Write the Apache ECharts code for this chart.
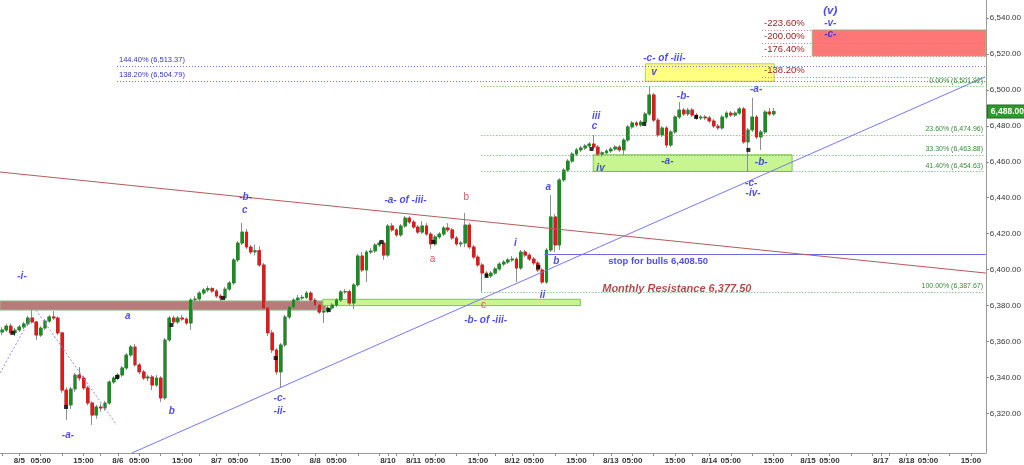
<!DOCTYPE html>
<html><head><meta charset="utf-8">
<script src="https://cdn.jsdelivr.net/npm/echarts@6/dist/echarts.min.js"></script>
<style>html,body{margin:0;padding:0;background:#fff}#c{width:1024px;height:465px}</style>
</head><body><div id="c"></div>
<script>
// ---- time axis structure: [date, first hour, last hour] of hourly slots ----
const sessions = [['8/4',20,23],['8/5',0,16],['8/5',18,23],['8/6',0,16],['8/6',18,23],['8/7',0,16],['8/7',18,23],['8/8',0,16],
  ['8/10',18,23],['8/11',0,16],['8/11',18,23],['8/12',0,16],['8/12',18,23],['8/13',0,16],['8/13',18,23],['8/14',0,16],['8/14',18,23],['8/15',0,16],
  ['8/17',18,23],['8/18',0,16],['8/18',18,19]];
const sundayOpens = ['8/10','8/17'];
const timeLabelHours = [5,15];

// ---- hourly OHLC ----
const opens = [6365.3,6366.4,6368.6,6364.8,6366.4,6368.1,6369.8,6373.1,6370.9,6363.6,6367.5,6371.4,6373.7,6373.1,6364.8,6333.0,6324.7,6333.6,6341.4,6339.7,
6334.2,6325.8,6319.1,6323.6,6323.0,6325.8,6337.5,6339.7,6341.4,6345.3,6352.5,6357.0,6347.0,6343.1,6339.7,6340.3,6335.8,6339.7,6328.6,6360.9,
6373.1,6370.9,6373.1,6372.5,6370.3,6383.1,6383.7,6387.0,6388.7,6389.5,6388.1,6385.3,6384.2,6389.2,6392.6,6405.4,6414.8,6420.9,6412.6,6409.8,
6410.6,6402.6,6378.7,6364.8,6355.3,6343.1,6358.1,6373.7,6379.2,6383.1,6384.2,6384.6,6387.0,6383.1,6380.3,6376.4,6377.0,6378.7,6380.3,6383.1,
6387.6,6387.8,6381.4,6391.5,6407.6,6399.8,6409.8,6410.4,6413.7,6414.8,6408.1,6424.3,6422.1,6419.3,6424.3,6428.7,6426.5,6423.7,6420.9,6424.3,
6419.8,6414.3,6418.2,6419.8,6423.2,6422.1,6417.6,6414.3,6414.8,6424.8,6412.6,6407.0,6402.6,6398.1,6396.5,6398.1,6400.4,6403.1,6404.2,6405.4,
6405.9,6400.9,6409.8,6408.1,6405.9,6403.7,6399.8,6393.1,6410.9,6429.3,6413.7,6449.9,6455.4,6460.4,6464.3,6466.6,6467.7,6468.8,6469.9,6468.2,
6464.3,6465.0,6466.0,6467.1,6468.2,6466.6,6472.1,6479.4,6481.6,6480.5,6482.1,6486.6,6497.2,6483.2,6474.9,6478.8,6469.3,6476.6,6484.9,6488.8,
6486.6,6488.8,6486.0,6484.4,6484.9,6484.4,6482.7,6479.9,6478.8,6484.9,6487.1,6486.0,6487.1,6489.4,6471.0,6477.7,6484.9,6473.8,6476.6,6487.7,
6486.6];
const closes = [6366.4,6368.6,6364.8,6366.4,6368.1,6369.8,6373.1,6370.9,6363.6,6367.5,6371.4,6373.7,6373.1,6364.8,6333.0,6324.7,6333.6,6341.4,6339.7,6334.2,
6325.8,6319.1,6323.6,6323.0,6325.8,6337.5,6339.7,6341.4,6345.3,6352.5,6357.0,6347.0,6343.1,6339.7,6340.3,6335.8,6339.7,6328.6,6360.9,6373.1,
6370.9,6373.1,6372.5,6370.3,6383.1,6383.7,6387.0,6388.7,6389.5,6388.1,6385.3,6384.2,6389.2,6392.6,6405.4,6414.8,6420.9,6412.6,6409.8,6410.6,
6402.6,6378.7,6364.8,6355.3,6343.1,6358.1,6373.7,6379.2,6383.1,6384.2,6384.6,6387.0,6383.1,6380.3,6376.4,6377.0,6378.7,6380.3,6383.1,6387.6,
6387.8,6381.4,6391.5,6407.6,6399.8,6409.8,6410.4,6413.7,6414.8,6408.1,6424.3,6422.1,6419.3,6424.3,6428.7,6426.5,6423.7,6420.9,6424.3,6419.8,
6414.3,6418.2,6419.8,6423.2,6422.1,6417.6,6414.3,6414.8,6424.8,6412.6,6407.0,6402.6,6398.1,6396.5,6398.1,6400.4,6403.1,6404.2,6405.4,6405.9,
6400.9,6409.8,6408.1,6405.9,6403.7,6399.8,6393.1,6410.9,6429.3,6413.7,6449.9,6455.4,6460.4,6464.3,6466.6,6467.7,6468.8,6469.9,6468.2,6464.3,
6465.0,6466.0,6467.1,6468.2,6466.6,6472.1,6479.4,6481.6,6480.5,6482.1,6486.6,6497.2,6483.2,6474.9,6478.8,6469.3,6476.6,6484.9,6488.8,6486.6,
6488.8,6486.0,6484.4,6484.9,6484.4,6482.7,6479.9,6478.8,6484.9,6487.1,6486.0,6487.1,6489.4,6471.0,6477.7,6484.9,6473.8,6476.6,6487.7,6486.6,
6488.0];
const lows = [6363.5,6365.3,6363.6,6363.0,6365.3,6367.0,6368.6,6370.0,6360.9,6362.5,6366.4,6370.3,6372.0,6363.6,6331.5,6316.4,6322.5,6332.0,6338.0,6333.0,
6324.5,6313.6,6317.0,6321.0,6321.5,6324.8,6336.5,6338.5,6340.3,6344.2,6351.4,6346.0,6341.8,6338.6,6338.0,6333.0,6334.7,6326.4,6327.5,6359.8,
6369.8,6369.8,6371.4,6369.2,6366.4,6381.4,6382.5,6385.9,6387.5,6387.0,6384.2,6382.5,6383.1,6388.1,6391.5,6404.2,6413.7,6411.4,6408.5,6408.0,
6401.5,6377.5,6363.0,6353.6,6341.4,6334.7,6357.0,6372.5,6378.1,6382.0,6383.1,6383.5,6382.0,6379.2,6375.3,6370.3,6375.9,6377.6,6379.2,6382.0,
6386.5,6380.3,6378.0,6390.4,6398.7,6393.1,6408.7,6409.3,6412.6,6405.5,6407.0,6421.0,6418.2,6418.2,6423.2,6425.4,6422.6,6419.8,6419.8,6418.7,
6411.5,6413.2,6417.0,6418.7,6420.9,6416.5,6413.2,6412.6,6412.6,6411.5,6405.9,6401.5,6387.75,6395.3,6395.3,6397.0,6399.3,6402.0,6403.1,6404.3,
6393.1,6399.8,6407.0,6404.8,6402.6,6398.7,6392.0,6392.0,6409.8,6409.8,6410.9,6448.8,6454.3,6459.3,6463.2,6465.4,6466.6,6467.7,6467.0,6463.2,
6462.7,6463.9,6464.9,6466.0,6465.5,6463.8,6471.0,6478.3,6479.4,6479.4,6481.0,6485.5,6482.1,6473.8,6473.8,6467.7,6468.2,6475.5,6483.8,6485.5,
6485.5,6484.9,6483.3,6483.3,6483.3,6481.6,6478.8,6477.7,6477.7,6483.8,6484.9,6484.9,6486.0,6470.0,6454.3,6476.6,6472.7,6466.6,6475.5,6485.5,
6485.5];
const highs = [6368.0,6369.8,6370.0,6367.5,6369.2,6371.0,6374.3,6377.5,6371.5,6368.5,6372.5,6374.8,6377.0,6374.0,6365.5,6334.5,6334.8,6342.5,6345.8,6341.0,
6335.5,6326.8,6324.8,6325.5,6327.0,6338.5,6340.8,6342.5,6346.4,6353.6,6358.1,6358.6,6348.0,6344.2,6341.5,6341.4,6341.4,6340.8,6362.0,6374.2,
6374.5,6374.2,6374.8,6373.5,6384.2,6385.3,6388.1,6389.8,6390.9,6390.4,6389.2,6386.4,6390.3,6393.7,6406.5,6415.9,6426.0,6422.6,6413.7,6414.0,
6413.0,6403.7,6380.0,6366.4,6356.4,6359.2,6374.8,6380.3,6384.2,6386.0,6385.9,6388.1,6388.1,6384.2,6381.4,6378.1,6379.8,6381.4,6384.2,6388.7,
6389.2,6388.9,6392.6,6408.7,6409.8,6410.9,6412.0,6414.8,6416.0,6416.0,6425.4,6425.9,6423.2,6425.4,6429.8,6429.8,6427.6,6424.8,6427.0,6426.0,
6420.9,6419.3,6420.9,6424.3,6425.9,6423.2,6418.7,6416.0,6431.5,6426.0,6413.7,6408.1,6403.7,6399.2,6399.2,6401.5,6404.2,6405.4,6406.5,6407.6,
6407.0,6410.9,6411.0,6409.2,6407.0,6404.8,6400.9,6412.0,6441.5,6431.0,6450.9,6456.5,6461.5,6465.4,6467.7,6468.8,6469.9,6471.0,6474.9,6469.3,
6465.9,6467.1,6468.2,6469.3,6469.3,6473.2,6480.5,6482.7,6482.7,6483.2,6487.7,6501.9,6498.3,6484.3,6479.9,6479.9,6477.7,6486.0,6493.3,6489.9,
6489.9,6489.9,6487.1,6486.0,6486.0,6485.5,6483.8,6481.0,6486.0,6488.2,6488.2,6488.2,6490.5,6490.5,6478.8,6495.5,6486.0,6477.7,6488.8,6489.9,
6489.9];
const lastPrice = 6488.00;

// black session markers [slot, price]
const markers = [[2.5,6364.8],[14.9,6323.6],[26.8,6340.3],[39.5,6369.2],[51.5,6384.2],[63.8,6350.8],[76.2,6377.5],[88.5,6415.4],
  [100.6,6415.4],[113,6396.5],[125.1,6401.5],[137.5,6467.1],[149.8,6481.0],[161.9,6484.9],[174.1,6466.6]];

// ---- annotation levels ----
const fibExt = [[6513.37,'144.40% (6,513.37)'],[6504.79,'138.20% (6,504.79)']];
const fibRet = [[6501.92,'0.00% (6,501.92)'],[6474.96,'23.60% (6,474.96)'],[6463.88,'33.30% (6,463.88)'],[6454.63,'41.40% (6,454.63)'],[6387.67,'100.00% (6,387.67)']];
const targetExt = [[6533.3,'-223.60%'],[6526.1,'-200.00%'],[6518.9,'-176.40%'],[6507.2,'-138.20%']];
const stopLevel = 6408.5;
const levelStarts = {fibExt:26.8, fibRet:111.8, target:177.3, stop:126.5};
const trendLines = [
  [[30.26,6298],[229.3,6507.2],'blue'],
  [[-0.5,6454.3],[229.5,6398.1],'red'],
  [[-0.5,6342.5],[7.2,6375.5],'dot'],
  [[7.9,6377.5],[26.7,6313.6],'dot']
];
const zones = [
  [-0.5,75.5,6377.5,6382.6,'brown'],
  [74.8,134.9,6380.0,6383.5,'lime'],
  [137.9,184.3,6454.63,6463.88,'lime'],
  [150.05,180.1,6504.79,6514.5,'yellow'],
  [189.0,229.5,6518.9,6533.3,'red']
];
const waveLabels = [
  [4.63,6396.5,'-i-','b'],[29.3,6374.2,'a','b'],[15.35,6308.0,'-a-','b'],[39.6,6321.4,'b','b'],
  [56.8,6440.4,'-b-','b'],[56.6,6433.2,'c','b'],[64.75,6328.6,'-c-','b'],[64.75,6321.4,'-ii-','b'],
  [94.1,6438.7,'-a- of -iii-','b'],[108.3,6440.4,'b','r'],[100.4,6405.9,'a','r'],[112.3,6380.3,'c','r'],
  [112.8,6372.0,'-b- of -iii-','b'],[119.75,6414.8,'i','b'],[126.05,6385.9,'ii','b'],[129.3,6404.8,'b','b'],
  [127.4,6446.0,'a','b'],[138.6,6485.5,'iii','b'],[138.2,6479.9,'c','b'],[139.6,6456.5,'iv','b'],
  [155.2,6460.4,'-a-','b'],[154.5,6517.7,'-c- of -iii-','b'],[152.1,6510.0,'v','b'],[158.9,6496.6,'-b-','b'],
  [175.9,6500.5,'-a-','b'],[177.1,6459.9,'-b-','b'],[174.75,6448.2,'-c-','b'],[175.2,6442.6,'-iv-','b'],
  [193.2,6543.9,'(v)','bl'],[193.2,6537.2,'-v-','b'],[193.2,6531.1,'-c-','b']
];
const notes = [[141.4,6404.8,'stop for bulls 6,408.50','stop'],[140.0,6389.2,'Monthly Resistance 6,377.50','mr']];
const yTicks = [6320,6340,6360,6380,6400,6420,6440,6460,6480,6500,6520,6540];

// ---- build axis categories ----
const cats=[], hrs=[], dts=[], first=[];
sessions.forEach(([d,h0,h1])=>{for(let h=h0;h<=h1;h++){cats.push(d+' '+String(h).padStart(2,'0')+':00');hrs.push(h);dts.push(d);first.push(h===h0);}});
const N = cats.length;
const labelText = cats.map((c,i)=>{
  if(hrs[i]===0 || (first[i] && sundayOpens.includes(dts[i]))) return dts[i];
  if(timeLabelHours.includes(hrs[i])) return String(hrs[i]).padStart(2,'0')+':00';
  return '';
});
const isDate = labelText.map(t=>t.includes('/'));
for(let i=0;i<N;i++){ if(labelText[i] && !isDate[i]){ for(let j=i+1;j<=i+3&&j<N;j++){ if(isDate[j]) labelText[i]=''; } } }
const tickOn = labelText.map((t,i)=> t!=='' || hrs[i]%5===0 || isDate[i]);

const XMIN=-0.5, XMAX=N-0.5;
const FONT = 'Liberation Sans, Arial, sans-serif';
const fmtNum = v => v.toFixed(2).replace(/\B(?=(\d{3})+(?!\d))/g, ',');

const wickData = opens.map((o,i)=>[o,closes[i],lows[i],highs[i]]);
const bodyData = opens.map((o,i)=>[o,closes[i],Math.min(o,closes[i]),Math.max(o,closes[i])]);

const styles = {
  b:{color:'#2020e6',fontSize:10,fontWeight:'bold',fontStyle:'italic'},
  bl:{color:'#2020e6',fontSize:11.5,fontWeight:'bold',fontStyle:'italic'},
  r:{color:'#dc2436',fontSize:10,fontWeight:'normal',fontStyle:'normal'},
  stop:{color:'#2020e6',fontSize:9.5,fontWeight:'bold',fontStyle:'normal'},
  mr:{color:'#9b1b1b',fontSize:11,fontWeight:'bold',fontStyle:'italic'}
};
const zoneStyle = {
  brown:{color:'#b87a7a',borderColor:'#8cc28c',borderWidth:1},
  lime:{color:'#c8f590',borderColor:'#7cc35c',borderWidth:1},
  yellow:{color:'#ffff80',borderColor:'#b4cc5a',borderWidth:1},
  red:{color:'#ff7676',borderColor:'#9cb47c',borderWidth:1}
};
const trendStyle = {
  blue:{color:'#7878ee',width:1,type:'solid'},
  red:{color:'#b35c5c',width:1,type:'solid'},
  dot:{color:'#8a8aee',width:1,type:[2,2]}
};

const mlData = [];
fibExt.forEach(([v,t])=>mlData.push([{coord:[levelStarts.fibExt,v],lineStyle:{color:'#7070e0',width:1,type:[1,2]},
  label:{show:true,position:'insideStartTop',formatter:t,color:'#3434c4',fontSize:7.5,distance:2}},{coord:[XMAX,v]}]));
fibRet.forEach(([v,t])=>mlData.push([{coord:[levelStarts.fibRet,v],lineStyle:{color:'#5aaa5a',width:1,type:[1,2]},
  label:{show:true,position:'insideEndTop',formatter:t,color:'#3a8a3a',fontSize:7,distance:2}},{coord:[229.3,v]}]));
targetExt.forEach(([v,t])=>mlData.push([{coord:[levelStarts.target,v],lineStyle:{color:'#e07272',width:1,type:[1,2]},
  label:{show:true,position:'insideStartTop',formatter:t,color:'#9a1c1c',fontSize:9.5,distance:2}},{coord:[XMAX,v]}]));
mlData.push([{coord:[levelStarts.stop,stopLevel],lineStyle:{color:'#6c6ce8',width:1.2,type:'solid'},label:{show:false}},{coord:[XMAX,stopLevel]}]);
trendLines.forEach(([a,b,k])=>mlData.push([{coord:a,lineStyle:trendStyle[k],label:{show:false}},{coord:b}]));
mlData.push([{coord:[XMAX-0.3,lastPrice],lineStyle:{color:'rgba(0,0,0,0)',width:0.1},label:{show:true,position:'end',distance:2,formatter:fmtNum(lastPrice),
  color:'#ffffff',fontWeight:'bold',fontSize:8.5,backgroundColor:'#2c9a2c',borderColor:'#1c6c1c',borderWidth:1,padding:[2,3,1,3]}},{coord:[XMAX,lastPrice]}]);

const maData = zones.map(([x1,x2,y1,y2,k])=>[{coord:[x1,y2],itemStyle:zoneStyle[k]},{coord:[x2,y1]}]);

const labelData = waveLabels.map(([x,y,t,s])=>({value:[x,y],label:Object.assign({show:true,position:'inside',formatter:t},styles[s])}))
  .concat(notes.map(([x,y,t,s])=>({value:[x,y],label:Object.assign({show:true,position:'right',distance:0,formatter:t},styles[s])})));

const chart = echarts.init(document.getElementById('c'));
chart.setOption({
  animation:false,
  backgroundColor:'#fff',
  textStyle:{fontFamily:FONT},
  grid:{left:0,right:37,top:0,bottom:12,containLabel:false},
  xAxis:[{
    type:'category',data:cats,boundaryGap:true,
    axisLine:{show:true,onZero:false,lineStyle:{color:'#9a9a9a',width:1}},
    axisTick:{show:true,alignWithLabel:true,length:3,interval:(i)=>tickOn[i],lineStyle:{color:'#888'}},
    axisLabel:{show:true,interval:(i)=>labelText[i]!=='',formatter:(v,i)=>labelText[i],fontSize:8,fontWeight:'bold',color:'#333',margin:4,fontFamily:FONT},
    splitLine:{show:false}
  },{
    type:'value',min:XMIN,max:XMAX,show:false,splitLine:{show:false},axisLine:{onZero:false}
  }],
  yAxis:[{
    type:'value',position:'right',min:6298,max:6550,scale:true,
    axisLine:{show:true,onZero:false,lineStyle:{color:'#9a9a9a',width:1}},
    axisTick:{show:true,length:3,customValues:yTicks,lineStyle:{color:'#888'}},
    axisLabel:{show:true,customValues:yTicks,formatter:(v)=>fmtNum(v),fontSize:8,color:'#333',margin:4,fontFamily:FONT},
    splitLine:{show:false}
  }],
  series:[
    {type:'scatter',name:'zones',xAxisIndex:1,data:[],z:1,silent:true,clip:false,
      markArea:{silent:true,data:maData}},
    {type:'candlestick',name:'range',xAxisIndex:0,data:wickData,barWidth:3.4,z:2,silent:true,
      itemStyle:{color:'#8e8e8e',color0:'#8e8e8e',borderColor:'#8e8e8e',borderColor0:'#8e8e8e',borderWidth:1}},
    {type:'candlestick',name:'body',xAxisIndex:0,data:bodyData,barWidth:2.4,z:3,silent:true,
      itemStyle:{color:'#12921a',color0:'#ec1414',borderColor:'#12921a',borderColor0:'#ec1414',borderWidth:1}},
    {type:'scatter',name:'marks',xAxisIndex:1,data:markers,symbol:'rect',symbolSize:4,z:4,silent:true,
      itemStyle:{color:'#000'}},
    {type:'scatter',name:'labels',xAxisIndex:1,data:labelData,symbolSize:0,z:6,silent:true,clip:false,
      label:{fontFamily:FONT},
      markLine:{silent:true,symbol:['none','none'],animation:false,data:mlData}}
  ]
});
</script>
</body></html>
